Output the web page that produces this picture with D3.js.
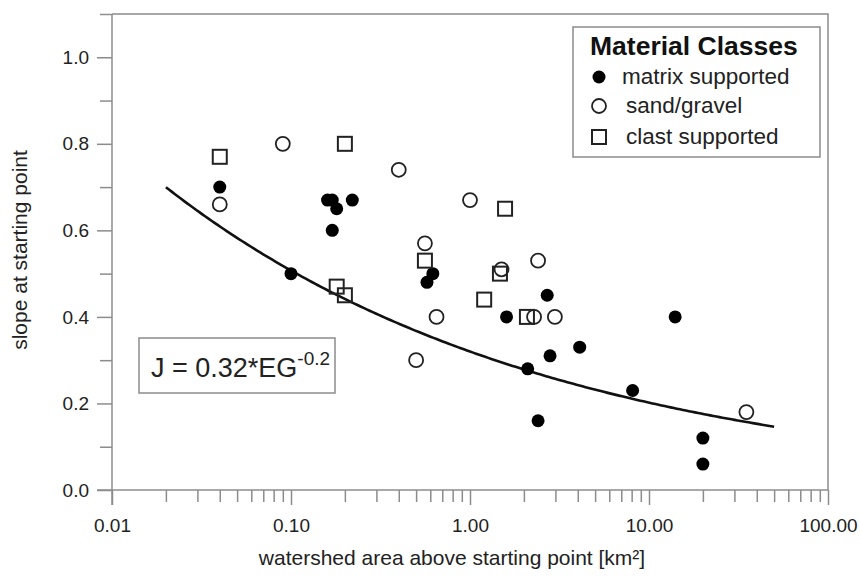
<!DOCTYPE html>
<html>
<head>
<meta charset="utf-8">
<script src="https://cdn.jsdelivr.net/npm/d3@7"></script>
<style>
  html, body { margin: 0; padding: 0; background: #fff; }
  svg { display: block; font-family: "Liberation Sans", Arial, sans-serif; }
</style>
</head>
<body>
<div id="chart"></div>
<script>
// watershed area [km²] and slope at starting point, per material class
const matrixArea  = [0.04, 0.10, 0.16, 0.17, 0.18, 0.22, 0.17, 0.62, 0.575, 1.6, 2.7, 2.8, 4.1, 2.1, 2.4, 8.1, 14, 20, 20];
const matrixSlope = [0.70, 0.50, 0.67, 0.67, 0.65, 0.67, 0.60, 0.50, 0.48, 0.40, 0.45, 0.31, 0.33, 0.28, 0.16, 0.23, 0.40, 0.12, 0.06];

const sandArea  = [0.04, 0.09, 0.40, 1.0, 0.56, 2.4, 1.5, 0.65, 0.50, 2.28, 2.98, 35];
const sandSlope = [0.66, 0.80, 0.74, 0.67, 0.57, 0.53, 0.51, 0.40, 0.30, 0.40, 0.40, 0.18];

const clastArea  = [0.04, 0.20, 0.18, 0.20, 1.57, 0.56, 1.47, 1.20, 2.08];
const clastSlope = [0.77, 0.80, 0.47, 0.45, 0.65, 0.53, 0.50, 0.44, 0.40];

// power law fit J = a * EG^b
const fitCoef = 0.32;
const fitExp = -0.2;
const fitFrom = 0.02;
const fitTo = 50;

const xTicks = [0.01, 0.1, 1, 10, 100];
const yTicks = [0, 0.2, 0.4, 0.6, 0.8, 1.0];
const yMinorTicks = [0.1, 0.3, 0.5, 0.7, 0.9, 1.1];

const legendLabels = ['matrix supported', 'sand/gravel', 'clast supported'];

const w = 860, h = 576;
const m = { left: 112, right: 828, top: 14, bottom: 490 };
const axisColor = '#8c8c8c';
const textColor = '#222';

const svg = d3.select('#chart').append('svg')
  .attr('width', w)
  .attr('height', h);

const x = d3.scaleLog().domain([0.01, 100]).range([m.left, m.right]);
const y = d3.scaleLinear().domain([0, 1.1]).range([m.bottom, m.top]);

// minor log ticks 2..9 in each decade
const xMinorTicks = [];
[0.01, 0.1, 1, 10].forEach(d => {
  for (let k = 2; k <= 9; k++) xMinorTicks.push(d * k);
});

// frame
svg.append('path')
  .attr('d', `M${m.left},${m.top}H${m.right}V${m.bottom}`)
  .attr('fill', 'none')
  .attr('stroke', axisColor)
  .attr('stroke-width', 1.5);

function styleAxis(g) {
  g.select('.domain').remove();
  g.selectAll('line').attr('stroke', axisColor).attr('stroke-width', 1.5);
  g.selectAll('text')
    .attr('fill', textColor)
    .style('font-size', '19px')
    .style('font-family', '"Liberation Sans", Arial, sans-serif');
}

// x axis
svg.append('g')
  .attr('transform', `translate(0,${m.bottom})`)
  .call(d3.axisBottom(x).tickValues(xMinorTicks).tickSize(12).tickFormat(''))
  .call(styleAxis);

svg.append('g')
  .attr('transform', `translate(0,${m.bottom})`)
  .call(d3.axisBottom(x).tickValues(xTicks).tickSize(15).tickPadding(14).tickFormat(d3.format('.2f')))
  .call(styleAxis);

// y axis
svg.append('g')
  .attr('transform', `translate(${m.left},0)`)
  .call(d3.axisLeft(y).tickValues(yMinorTicks).tickSize(12).tickFormat(''))
  .call(styleAxis);

svg.append('g')
  .attr('transform', `translate(${m.left},0)`)
  .call(d3.axisLeft(y).tickValues(yTicks).tickSize(15).tickPadding(8).tickFormat(d3.format('.1f')))
  .call(styleAxis);

svg.append('line')
  .attr('x1', m.left - 15).attr('x2', m.right)
  .attr('y1', m.bottom).attr('y2', m.bottom)
  .attr('stroke', axisColor).attr('stroke-width', 1.5);

svg.append('line')
  .attr('x1', m.left).attr('x2', m.left)
  .attr('y1', m.top).attr('y2', m.bottom + 15)
  .attr('stroke', axisColor).attr('stroke-width', 1.5);

// axis titles
svg.append('text')
  .attr('x', 452)
  .attr('y', 565)
  .attr('text-anchor', 'middle')
  .attr('fill', textColor)
  .style('font-size', '21px')
  .text('watershed area above starting point [km²]');

svg.append('text')
  .attr('transform', 'translate(27,250) rotate(-90)')
  .attr('text-anchor', 'middle')
  .attr('fill', textColor)
  .style('font-size', '21px')
  .text('slope at starting point');

// fitted curve
const fitX = d3.range(0, 201).map(i => fitFrom * Math.pow(fitTo / fitFrom, i / 200));
const line = d3.line()
  .x(d => x(d))
  .y(d => y(fitCoef * Math.pow(d, fitExp)));

svg.append('path')
  .datum(fitX)
  .attr('d', line)
  .attr('fill', 'none')
  .attr('stroke', '#111')
  .attr('stroke-width', 2.6);

// markers
const plot = svg.append('g');

plot.selectAll('circle.matrix')
  .data(d3.zip(matrixArea, matrixSlope))
  .join('circle')
  .attr('class', 'matrix')
  .attr('cx', d => x(d[0]))
  .attr('cy', d => y(d[1]))
  .attr('r', 6.5)
  .attr('fill', '#000');

plot.selectAll('circle.sand')
  .data(d3.zip(sandArea, sandSlope))
  .join('circle')
  .attr('class', 'sand')
  .attr('cx', d => x(d[0]))
  .attr('cy', d => y(d[1]))
  .attr('r', 7)
  .attr('fill', 'none')
  .attr('stroke', '#222')
  .attr('stroke-width', 1.8);

const sq = 14;
plot.selectAll('rect.clast')
  .data(d3.zip(clastArea, clastSlope))
  .join('rect')
  .attr('class', 'clast')
  .attr('x', d => x(d[0]) - sq / 2)
  .attr('y', d => y(d[1]) - sq / 2)
  .attr('width', sq)
  .attr('height', sq)
  .attr('fill', 'none')
  .attr('stroke', '#222')
  .attr('stroke-width', 2);

// equation box
const eq = svg.append('g');
eq.append('rect')
  .attr('x', 139).attr('y', 338)
  .attr('width', 196).attr('height', 55)
  .attr('fill', '#fff')
  .attr('stroke', axisColor)
  .attr('stroke-width', 1.5);

const eqText = eq.append('text')
  .attr('x', 151)
  .attr('y', 377)
  .attr('fill', textColor)
  .style('font-size', '27px');
eqText.append('tspan').text(`J = ${fitCoef}*EG`);
eqText.append('tspan')
  .attr('dy', -12)
  .style('font-size', '19px')
  .text(fitExp);

// legend
const legend = svg.append('g');
legend.append('rect')
  .attr('x', 573).attr('y', 27)
  .attr('width', 247).attr('height', 130)
  .attr('fill', '#fff')
  .attr('stroke', axisColor)
  .attr('stroke-width', 1.5);

legend.append('text')
  .attr('x', 590)
  .attr('y', 55)
  .attr('fill', '#111')
  .style('font-size', '26.5px')
  .style('font-weight', 'bold')
  .text('Material Classes');

const rowY = [77, 106, 137];

legend.append('circle')
  .attr('cx', 599).attr('cy', rowY[0]).attr('r', 6.5)
  .attr('fill', '#000');
legend.append('circle')
  .attr('cx', 599).attr('cy', rowY[1]).attr('r', 7)
  .attr('fill', 'none').attr('stroke', '#222').attr('stroke-width', 1.8);
legend.append('rect')
  .attr('x', 599 - sq / 2).attr('y', rowY[2] - sq / 2)
  .attr('width', sq).attr('height', sq)
  .attr('fill', 'none').attr('stroke', '#222').attr('stroke-width', 2);

legend.selectAll('text.item')
  .data(legendLabels)
  .join('text')
  .attr('class', 'item')
  .attr('x', (d, i) => i === 0 ? 622 : 626)
  .attr('y', (d, i) => rowY[i] + 7)
  .attr('fill', textColor)
  .style('font-size', '22.5px')
  .text(d => d);
</script>
</body>
</html>
